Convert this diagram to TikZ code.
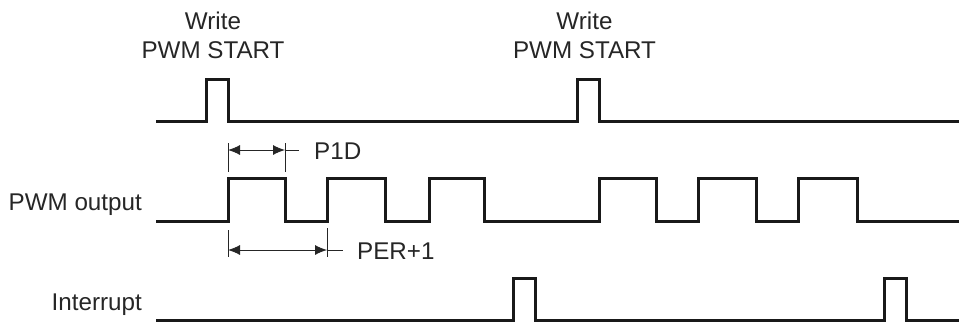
\documentclass[tikz,border=0pt]{standalone}
\usepackage{fontspec}
\setmainfont{Liberation Sans}
\usetikzlibrary{arrows.meta}
\begin{document}
\begin{tikzpicture}[x=1pt,y=-1pt,>={Latex[length=12pt,width=10pt]},
  wave/.style={line width=3pt,line join=miter,color=black!90},
  dim/.style={line width=.9pt,color=black!85},
  lbl/.style={font=\fontsize{24.2}{29}\selectfont,inner sep=0pt,text=black!85}]
\path[use as bounding box] (0,0) rectangle (959,322);
% write pulses
\draw[wave] (156,121.5)--(206.5,121.5)--(206.5,79.5)--(228,79.5)--(228,121.5)
  --(577.5,121.5)--(577.5,79.5)--(599.5,79.5)--(599.5,121.5)--(959,121.5);
% pwm output
\draw[wave] (156,221.5)--(228,221.5)--(228,178.5)--(285,178.5)--(285,221.5)
  --(327,221.5)--(327,178.5)--(385.5,178.5)--(385.5,221.5)--(429,221.5)
  --(429,178.5)--(484,178.5)--(484,221.5)--(599,221.5)--(599,178.5)
  --(656,178.5)--(656,221.5)--(698,221.5)--(698,178.5)--(756,178.5)
  --(756,221.5)--(798,221.5)--(798,178.5)--(857,178.5)--(857,221.5)--(959,221.5);
% interrupt
\draw[wave] (156,320)--(513,320)--(513,278.5)--(535,278.5)--(535,320)
  --(884,320)--(884,278.5)--(906.5,278.5)--(906.5,320)--(959,320);
% P1D
\coordinate (pa) at (228,150);
\coordinate (pb) at (285,150);
\coordinate (pc) at (299,150);
\draw[dim] (228,143)--(228,172);
\draw[dim] (285,143)--(285,172);
\draw[dim,<->] (pa)--(pb);
\draw[dim] (pb)--(pc);
% PER+1
\coordinate (qa) at (228,250);
\coordinate (qb) at (327,250);
\coordinate (qc) at (342.5,250);
\draw[dim] (228,230)--(228,257);
\draw[dim] (327,228)--(327,257);
\draw[dim,<->] (qa)--(qb);
\draw[dim] (qb)--(qc);
% labels
\node[lbl,anchor=base] (w1) at (213,29) {Write};
\node[lbl,anchor=base] (s1) at (213,58.5) {PWM START};
\node[lbl,anchor=base] (w2) at (584.5,29) {Write};
\node[lbl,anchor=base] (s2) at (584.5,58.5) {PWM START};
\node[lbl,anchor=base west] (p1d) at (314,159.5) {P1D};
\node[lbl,anchor=base west] (per) at (357,259.5) {PER+1};
\node[lbl,anchor=base east] (pwm) at (142,210) {PWM output};
\node[lbl,anchor=base east] (irq) at (142,310) {Interrupt};
\end{tikzpicture}
\end{document}
